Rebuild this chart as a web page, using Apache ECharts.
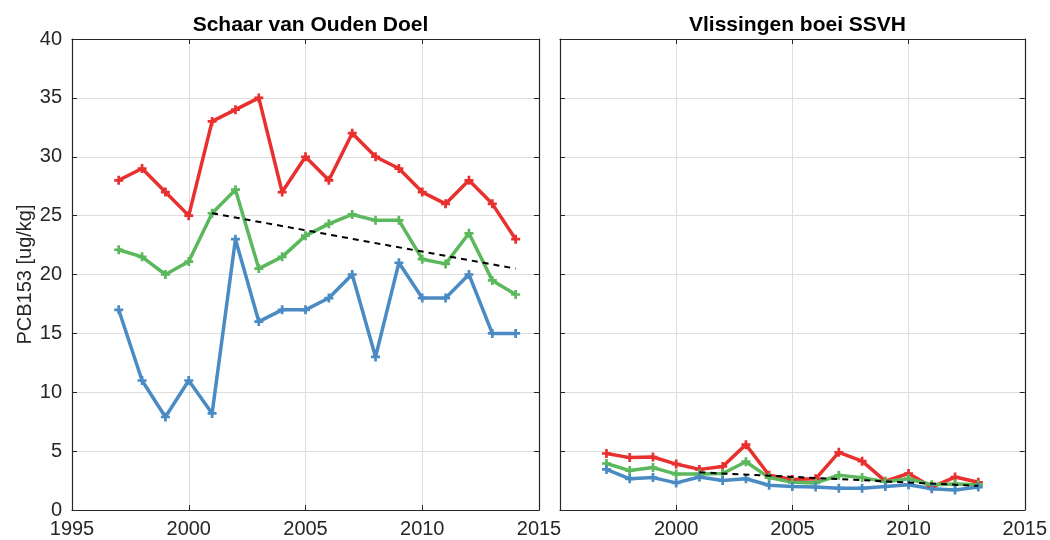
<!DOCTYPE html>
<html>
<head>
<meta charset="utf-8">
<title>PCB153</title>
<script src="https://cdn.jsdelivr.net/npm/echarts@6/dist/echarts.min.js"></script>
<style>
  html, body { margin: 0; padding: 0; background: #ffffff; }
  #chart { width: 1050px; height: 540px; }
</style>
</head>
<body>
<div id="chart"></div>
<script>
// Station titles
const stationTitles = ['Schaar van Ouden Doel', 'Vlissingen boei SSVH'];
const yAxisName = 'PCB153 [ug/kg]';

// Schaar van Ouden Doel
const yearsDoel = [1997, 1998, 1999, 2000, 2001, 2002, 2003, 2004, 2005, 2006, 2007, 2008, 2009, 2010, 2011, 2012, 2013, 2014];
const doelRed   = [28, 29, 27, 25, 33, 34, 35, 27, 30, 28, 32, 30, 29, 27, 26, 28, 26, 23];
const doelGreen = [22.1, 21.5, 20.0, 21.1, 25.2, 27.2, 20.5, 21.5, 23.3, 24.3, 25.1, 24.6, 24.6, 21.3, 20.9, 23.5, 19.5, 18.3];
const doelBlue  = [17, 11, 7.9, 11, 8.2, 23, 16, 17, 17, 18, 20, 13, 21, 18, 18, 20, 15, 15];
const doelTrendYears = [2001, 2014];
const doelTrend      = [25.2, 20.5];

// Vlissingen boei SSVH
const yearsSsvh = [1997, 1998, 1999, 2000, 2001, 2002, 2003, 2004, 2005, 2006, 2007, 2008, 2009, 2010, 2011, 2012, 2013];
const ssvhRed   = [4.8, 4.45, 4.5, 3.9, 3.45, 3.7, 5.55, 2.95, 2.6, 2.65, 4.9, 4.15, 2.45, 3.1, 1.95, 2.8, 2.35];
const ssvhGreen = [3.95, 3.35, 3.6, 3.05, 3.05, 3.1, 4.1, 2.75, 2.35, 2.3, 2.95, 2.75, 2.4, 2.65, 2.15, 2.2, 2.15];
const ssvhBlue  = [3.45, 2.65, 2.75, 2.3, 2.8, 2.5, 2.65, 2.1, 2.0, 1.95, 1.85, 1.85, 2.0, 2.15, 1.8, 1.7, 1.95];
const ssvhTrendYears = [2001, 2013];
const ssvhTrend      = [3.2, 2.05];

// Axis ranges
const xMin = 1995, xMax = 2015, xStep = 5;
const yMin = 0, yMax = 40, yStep = 5;

const RED = '#e8312f', GREEN = '#5cb85c', BLUE = '#4b8bc4';
const AXIS = '#262626';
const GRIDLINE = '#dedede';
const FONT = '"Liberation Sans", Arial, sans-serif';
const PLUS = 'path://M3.5,0 L6.5,0 L6.5,3.5 L10,3.5 L10,6.5 L6.5,6.5 L6.5,10 L3.5,10 L3.5,6.5 L0,6.5 L0,3.5 L3.5,3.5 Z';

const pair = (xs, ys) => xs.map((x, i) => [x, ys[i]]);

const grids = [
  { left: 72, top: 39, width: 467, height: 471 },
  { left: 560, top: 39, width: 465, height: 471 }
];

function xAxes(gi, showMin) {
  const base = {
    type: 'value', gridIndex: gi, min: xMin, max: xMax, interval: xStep,
    axisLine: { show: true, onZero: false, lineStyle: { color: AXIS, width: 1.2 } },
    axisTick: { show: true, inside: true, length: 5, lineStyle: { color: AXIS } }
  };
  return [
    Object.assign({}, base, {
      position: 'bottom',
      axisLabel: { show: true, color: AXIS, fontSize: 20, fontFamily: FONT, margin: 9,
                   showMinLabel: showMin, formatter: v => String(v) },
      splitLine: { show: true, lineStyle: { color: GRIDLINE, width: 1 } }
    }),
    Object.assign({}, base, {
      position: 'top',
      axisLabel: { show: false },
      splitLine: { show: false }
    })
  ];
}

function yAxes(gi, withLabels) {
  const base = {
    type: 'value', gridIndex: gi, min: yMin, max: yMax, interval: yStep,
    axisLine: { show: true, onZero: false, lineStyle: { color: AXIS, width: 1.2 } },
    axisTick: { show: true, inside: true, length: 5, lineStyle: { color: AXIS } }
  };
  const left = Object.assign({}, base, {
    position: 'left',
    axisLabel: { show: withLabels, color: AXIS, fontSize: 20, fontFamily: FONT, margin: 10 },
    splitLine: { show: true, lineStyle: { color: GRIDLINE, width: 1 } }
  });
  if (withLabels) {
    left.name = yAxisName;
    left.nameLocation = 'middle';
    left.nameGap = 37;
    left.nameRotate = 90;
    left.nameTextStyle = { color: AXIS, fontSize: 20, fontFamily: FONT };
  }
  return [
    left,
    Object.assign({}, base, {
      position: 'right',
      axisLabel: { show: false },
      splitLine: { show: false }
    })
  ];
}

function lineSeries(gi, xs, ys, color) {
  return {
    type: 'line', xAxisIndex: gi * 2, yAxisIndex: gi * 2,
    data: pair(xs, ys), color: color,
    lineStyle: { color: color, width: 3.5 },
    symbol: PLUS, symbolSize: 9, showSymbol: true,
    itemStyle: { color: color },
    emphasis: { disabled: true }, animation: false, z: 3
  };
}

function trendSeries(gi, xs, ys) {
  return {
    type: 'line', xAxisIndex: gi * 2, yAxisIndex: gi * 2,
    data: pair(xs, ys), symbol: 'none',
    lineStyle: { color: '#000000', width: 2, type: [6, 5] },
    emphasis: { disabled: true }, animation: false, z: 4
  };
}

const option = {
  backgroundColor: '#ffffff',
  animation: false,
  title: stationTitles.map((t, i) => ({
    text: t,
    left: grids[i].left + grids[i].width / 2,
    top: 10,
    textAlign: 'center',
    textStyle: { color: '#000000', fontSize: 21, fontWeight: 'bold', fontFamily: FONT }
  })),
  grid: grids,
  xAxis: [...xAxes(0, true), ...xAxes(1, false)],
  yAxis: [...yAxes(0, true), ...yAxes(1, false)],
  series: [
    lineSeries(0, yearsDoel, doelRed, RED),
    lineSeries(0, yearsDoel, doelGreen, GREEN),
    lineSeries(0, yearsDoel, doelBlue, BLUE),
    trendSeries(0, doelTrendYears, doelTrend),
    lineSeries(1, yearsSsvh, ssvhRed, RED),
    lineSeries(1, yearsSsvh, ssvhGreen, GREEN),
    lineSeries(1, yearsSsvh, ssvhBlue, BLUE),
    trendSeries(1, ssvhTrendYears, ssvhTrend)
  ]
};

const chart = echarts.init(document.getElementById('chart'), null, { renderer: 'canvas' });
chart.setOption(option);
</script>
</body>
</html>
